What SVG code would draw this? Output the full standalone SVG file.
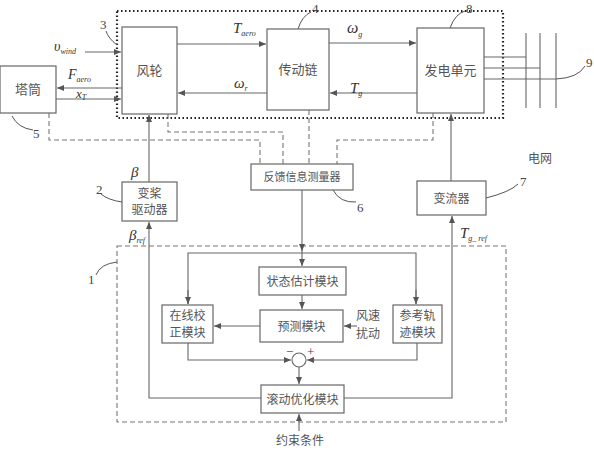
<svg xmlns="http://www.w3.org/2000/svg" width="594" height="450" viewBox="0 0 594 450">
<defs>
<marker id="ah" markerWidth="8" markerHeight="6" refX="7" refY="3" orient="auto" markerUnits="userSpaceOnUse">
<path d="M0,0 L7,3 L0,6 Z" fill="#555"/>
</marker>
<style>
.box{fill:#fff;stroke:#666;stroke-width:1.2}
.ln{fill:none;stroke:#666;stroke-width:1.1}
.dash{fill:none;stroke:#777;stroke-width:1.1;stroke-dasharray:5,3}
.dot{fill:none;stroke:#222;stroke-width:2.2;stroke-dasharray:1.5,2.5}
.cn{font-family:"Noto Sans CJK SC","Noto Sans",sans-serif;fill:#555;text-anchor:middle}
.m{font-family:"Liberation Serif",serif;font-style:italic;fill:#333}
.num{font-family:"Liberation Serif",serif;fill:#444;font-size:13px}
.lead{fill:none;stroke:#555;stroke-width:1}
</style>
</defs>
<rect width="594" height="450" fill="#fff"/>

<!-- outer dotted box -->
<rect class="dot" x="117" y="11" width="386" height="107"/>
<!-- dashed controller box 1 -->
<rect class="dash" x="117" y="246" width="389" height="176"/>

<g id="connectors">
<!-- dashed feedback lines -->
<path class="dash" d="M49,113 V140 H260 V164"/>
<path class="dash" d="M168,114 V132 H283 V164"/>
<path class="dash" d="M309,110 V164"/>
<path class="dash" d="M433,113 V140 H337 V164"/>
<!-- top signals -->
<path class="ln" d="M85,52 H121" marker-end="url(#ah)"/>
<path class="ln" d="M122,88 H57" marker-end="url(#ah)"/>
<path class="ln" d="M56,99 H121" marker-end="url(#ah)"/>
<path class="ln" d="M177,44 H266" marker-end="url(#ah)"/>
<path class="ln" d="M267,93 H178" marker-end="url(#ah)"/>
<path class="ln" d="M329,43 H416" marker-end="url(#ah)"/>
<path class="ln" d="M417,93 H330" marker-end="url(#ah)"/>
<!-- grid lines -->
<path class="ln" d="M484,57 H526 M484,68 H540 M484,79 H556"/>
<path class="ln" d="M526,33 V108 M540,33 V108 M556,33 V108"/>
<!-- actuators -->
<path class="ln" d="M149,182 V115" marker-end="url(#ah)"/>
<path class="ln" d="M451,181 V114" marker-end="url(#ah)"/>
<!-- controller internals -->
<path class="ln" d="M302,190 V251" marker-end="url(#ah)"/>
<path class="ln" d="M302,250 V266" marker-end="url(#ah)"/>
<path class="ln" d="M188,304 V253 H416 V304" />
<path class="ln" d="M188,290 V304" marker-end="url(#ah)"/>
<path class="ln" d="M416,290 V304" marker-end="url(#ah)"/>
<path class="ln" d="M302,295 V309" marker-end="url(#ah)"/>
<path class="ln" d="M260,326 H214" marker-end="url(#ah)"/>
<path class="ln" d="M357,326 H344" marker-end="url(#ah)"/>
<path class="ln" d="M188,343 V360 H291" marker-end="url(#ah)"/>
<path class="ln" d="M417,343 V360 H307" marker-end="url(#ah)"/>
<path class="ln" d="M299,367 V384" marker-end="url(#ah)"/>
<path class="ln" d="M299,431 V414" marker-end="url(#ah)"/>
<path class="ln" d="M261,398 H149 V222" marker-end="url(#ah)"/>
<path class="ln" d="M344,398 H452 V216" marker-end="url(#ah)"/>
<!-- leader curves -->
<path class="lead" d="M117,45 Q108,38 106,31"/>
<path class="lead" d="M298,29 Q302,16 311,12"/>
<path class="lead" d="M450,28 Q455,14 465,11"/>
<path class="lead" d="M556,79 Q578,78 585,66"/>
<path class="lead" d="M12,116 Q18,128 33,130"/>
<path class="lead" d="M122,202 Q108,200 101,194"/>
<path class="lead" d="M333,190 Q340,203 356,202"/>
<path class="lead" d="M486,198 Q510,192 518,184"/>
<path class="lead" d="M117,262 Q100,264 96,275"/>
</g>

<g id="n-tower"><rect class="box" x="0" y="66" width="56" height="47"/><text class="cn" x="28" y="94" font-size="13">塔筒</text></g>
<g id="n-rotor"><rect class="box" x="122" y="27" width="55" height="87"/><text class="cn" x="149.5" y="75" font-size="13">风轮</text></g>
<g id="n-drive"><rect class="box" x="267" y="29" width="62" height="81"/><text class="cn" x="298" y="74" font-size="13">传动链</text></g>
<g id="n-gen"><rect class="box" x="417" y="28" width="67" height="85"/><text class="cn" x="450.5" y="75" font-size="13">发电单元</text></g>
<g id="n-pitch"><rect class="box" x="122" y="182" width="55" height="39"/><text class="cn" x="149.5" y="198" font-size="12">变桨</text><text class="cn" x="149.5" y="214" font-size="12">驱动器</text></g>
<g id="n-feedback"><rect class="box" x="251" y="164" width="102" height="26"/><text class="cn" x="302" y="181" font-size="11">反馈信息测量器</text></g>
<g id="n-conv"><rect class="box" x="417" y="181" width="69" height="34"/><text class="cn" x="451.5" y="203" font-size="12">变流器</text></g>
<g id="n-state"><rect class="box" x="259" y="267" width="87" height="28"/><text class="cn" x="302.5" y="286" font-size="12">状态估计模块</text></g>
<g id="n-pred"><rect class="box" x="260" y="310" width="83" height="32"/><text class="cn" x="301.5" y="331" font-size="12">预测模块</text></g>
<g id="n-corr"><rect class="box" x="162" y="305" width="51" height="38"/><text class="cn" x="187.5" y="320" font-size="12">在线校</text><text class="cn" x="187.5" y="337" font-size="12">正模块</text></g>
<g id="n-ref"><rect class="box" x="393" y="305" width="49" height="38"/><text class="cn" x="417.5" y="320" font-size="12">参考轨</text><text class="cn" x="417.5" y="337" font-size="12">迹模块</text></g>
<g id="n-sum"><circle cx="299" cy="360" r="7" fill="#fff" stroke="#666" stroke-width="1.1"/>
<text class="num" x="286" y="356" font-size="11">−</text><text class="num" x="307" y="356" font-size="10">+</text></g>
<g id="n-opt"><rect class="box" x="261" y="385" width="83" height="28"/><text class="cn" x="302.5" y="404" font-size="12">滚动优化模块</text></g>

<!-- free texts -->
<text class="cn" x="368" y="320" font-size="12">风速</text>
<text class="cn" x="368" y="338" font-size="12">扰动</text>
<text class="cn" x="300" y="445" font-size="12">约束条件</text>
<text class="cn" x="540" y="163" font-size="12">电网</text>

<!-- math labels -->
<text class="m" x="54" y="51" font-size="14">υ<tspan font-size="8" dy="3">wind</tspan></text>
<text class="m" x="68" y="79" font-size="14">F<tspan font-size="8" dy="3">aero</tspan></text>
<text class="m" x="76" y="98" font-size="13">x<tspan font-size="8" dy="2">T</tspan></text>
<text class="m" x="233" y="33" font-size="15">T<tspan font-size="8" dy="3">aero</tspan></text>
<text class="m" x="234" y="88" font-size="15">ω<tspan font-size="8" dy="3">r</tspan></text>
<text class="m" x="347" y="33" font-size="16">ω<tspan font-size="8" dy="4">g</tspan></text>
<text class="m" x="350" y="93" font-size="15">T<tspan font-size="8" dy="3">g</tspan></text>
<text class="m" x="131" y="177" font-size="15">β</text>
<text class="m" x="129" y="240" font-size="15">β<tspan font-size="8" dy="3">ref</tspan></text>
<text class="m" x="460" y="238" font-size="15">T<tspan font-size="8" dy="3">g_ ref</tspan></text>

<!-- numbers -->
<text class="num" x="100" y="29">3</text>
<text class="num" x="312" y="13">4</text>
<text class="num" x="466" y="13">8</text>
<text class="num" x="586" y="67">9</text>
<text class="num" x="33" y="138">5</text>
<text class="num" x="96" y="194">2</text>
<text class="num" x="357" y="212">6</text>
<text class="num" x="520" y="186">7</text>
<text class="num" x="88" y="284">1</text>
</svg>
